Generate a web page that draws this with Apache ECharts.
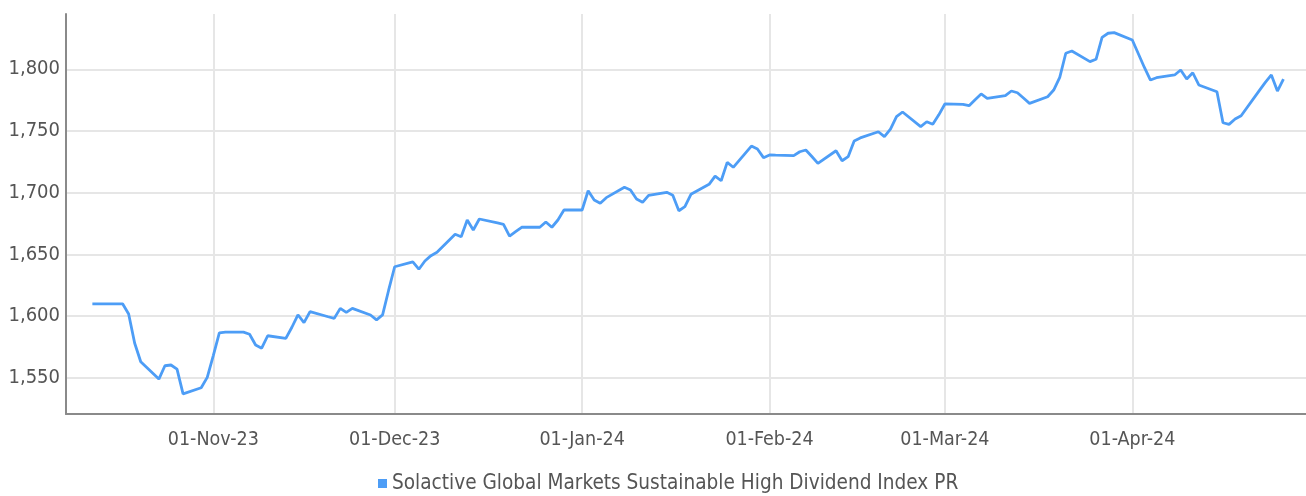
<!DOCTYPE html>
<html>
<head>
<meta charset="utf-8">
<script src="https://cdn.jsdelivr.net/npm/echarts@6/dist/echarts.min.js"></script>
<style>
html,body{margin:0;padding:0;background:#fff;}
#chart{width:1306px;height:496px;}
</style>
</head>
<body>
<div id="chart"></div>
<script>
const seriesName = 'Solactive Global Markets Sustainable High Dividend Index PR';
const dates = [
'2023-10-12','2023-10-13','2023-10-16','2023-10-17','2023-10-18','2023-10-19','2023-10-20',
'2023-10-23','2023-10-24','2023-10-25','2023-10-26','2023-10-27','2023-10-30','2023-10-31',
'2023-11-01','2023-11-02','2023-11-03','2023-11-06','2023-11-07','2023-11-08','2023-11-09','2023-11-10',
'2023-11-13','2023-11-14','2023-11-15','2023-11-16','2023-11-17','2023-11-20','2023-11-21','2023-11-22',
'2023-11-23','2023-11-24','2023-11-27','2023-11-28','2023-11-29','2023-11-30','2023-12-01',
'2023-12-04','2023-12-05','2023-12-06','2023-12-07','2023-12-08','2023-12-11','2023-12-12','2023-12-13',
'2023-12-14','2023-12-15','2023-12-18','2023-12-19','2023-12-20','2023-12-21','2023-12-22',
'2023-12-25','2023-12-26','2023-12-27','2023-12-28','2023-12-29','2024-01-01','2024-01-02','2024-01-03',
'2024-01-04','2024-01-05','2024-01-08','2024-01-09','2024-01-10','2024-01-11','2024-01-12',
'2024-01-15','2024-01-16','2024-01-17','2024-01-18','2024-01-19','2024-01-22','2024-01-23','2024-01-24',
'2024-01-25','2024-01-26','2024-01-29','2024-01-30','2024-01-31','2024-02-01','2024-02-02',
'2024-02-05','2024-02-06','2024-02-07','2024-02-08','2024-02-09','2024-02-12','2024-02-13','2024-02-14',
'2024-02-15','2024-02-16','2024-02-19','2024-02-20','2024-02-21','2024-02-22','2024-02-23',
'2024-02-26','2024-02-27','2024-02-28','2024-02-29','2024-03-01','2024-03-04','2024-03-05','2024-03-06',
'2024-03-07','2024-03-08','2024-03-11','2024-03-12','2024-03-13','2024-03-14','2024-03-15',
'2024-03-18','2024-03-19','2024-03-20','2024-03-21','2024-03-22','2024-03-25','2024-03-26','2024-03-27',
'2024-03-28','2024-03-29','2024-04-01','2024-04-02','2024-04-03','2024-04-04','2024-04-05',
'2024-04-08','2024-04-09','2024-04-10','2024-04-11','2024-04-12','2024-04-15','2024-04-16','2024-04-17',
'2024-04-18','2024-04-19','2024-04-22','2024-04-23','2024-04-24','2024-04-25','2024-04-26'
];
const values = [
1610,1610,1610,1610,1601.7,1578,1563,
1549,1559.8,1560.4,1557,1537,1542,1550.4,
1568,1586.5,1587,1587,1585.3,1576.6,1574,1584.1,
1582,1591,1601.1,1594.7,1603.6,1599.5,1598.2,1606.3,
1603,1606.3,1600.9,1597,1601,1621,1640,
1644,1638,1644.7,1649,1651.7,1666.3,1664.3,1677.9,
1669.8,1678.7,1675.5,1674.4,1664.9,1668.5,1672,
1672,1676.3,1672,1677.9,1686,1686,1701.6,1694.1,
1691.4,1696,1704.4,1702.2,1694.9,1692.2,1697.9,
1700.3,1698,1685.4,1688.7,1698.7,1706.8,1713.5,1709.7,
1724.6,1720.6,1737.8,1735.4,1728.4,1730.6,1730.4,
1730,1733.2,1734.6,1729.3,1723.8,1734,1725.9,1729.2,
1741.9,1744.4,1749.4,1745.4,1751.6,1761.6,1765.4,
1753.5,1757.5,1755.4,1763.1,1771.9,1771.6,1770.5,1775.4,
1780,1776.5,1778.6,1782.4,1781,1776.7,1772.4,
1777.8,1783.2,1793.5,1813,1814.8,1806.2,1808.1,1825.9,
1829.2,1829.7,1823.7,1812.6,1801.5,1791.3,1793.2,
1795.4,1799.4,1792.1,1797.2,1787.3,1781.8,1756.7,1755.4,
1759.7,1762.4,1782.7,1789.4,1795.4,1782.4,1792.1
];
const monthNames = ['Jan','Feb','Mar','Apr','May','Jun','Jul','Aug','Sep','Oct','Nov','Dec'];

const FONT = '"Liberation Sans Narrow","DejaVu Sans Condensed","Roboto",sans-serif';
const chart = echarts.init(document.getElementById('chart'), null, {renderer:'canvas'});
const data = dates.map((d,i)=>[d, values[i]]);
chart.setOption({
  animation:false,
  backgroundColor:'#ffffff',
  grid:{left:66, right:0, top:14, bottom:82, containLabel:false},
  legend:{
    top:473, left:378, padding:0,
    icon:'rect', itemWidth:9, itemHeight:9, itemGap:10,
    textStyle:{fontFamily:FONT, fontSize:20.6, color:'#555555', padding:[0,0,0,0]},
    data:[seriesName]
  },
  xAxis:{
    type:'time',
    min: echarts.number.parseDate('2023-10-07 15:20:00').getTime(),
    max: echarts.number.parseDate('2024-04-29 17:30:00').getTime(),
    splitNumber:6,
    axisLine:{show:true, lineStyle:{color:'#8a8a8a', width:2}},
    axisTick:{show:false},
    axisLabel:{
      fontFamily:FONT, fontSize:19.5, color:'#555555', margin:16,
      showMinLabel:false, showMaxLabel:false,
      formatter:function(v){
        const d=new Date(v);
        const dd=('0'+d.getDate()).slice(-2);
        return dd+'-'+monthNames[d.getMonth()]+'-'+String(d.getFullYear()).slice(2);
      }
    },
    splitLine:{show:true, showMinLine:false, showMaxLine:false, lineStyle:{color:'#e6e6e6', width:2}}
  },
  yAxis:{
    type:'value',
    min:1520.7, max:1844.8,
    axisLine:{show:true, lineStyle:{color:'#8a8a8a', width:2}},
    axisTick:{show:false},
    axisLabel:{
      fontFamily:FONT, fontSize:20, color:'#555555', margin:6,
      showMinLabel:false, showMaxLabel:false,
      formatter:function(v){ return String(Math.round(v)).replace(/\B(?=(\d{3})+(?!\d))/g, ','); }
    },
    splitLine:{show:true, showMinLine:false, showMaxLine:false, lineStyle:{color:'#e6e6e6', width:2}}
  },
  series:[{
    name:seriesName,
    type:'line',
    data:data,
    showSymbol:false,
    symbol:'none',
    color:'#4d9df6',
    lineStyle:{color:'#4d9df6', width:2.8},
    z:3
  }]
});
</script>
</body>
</html>
